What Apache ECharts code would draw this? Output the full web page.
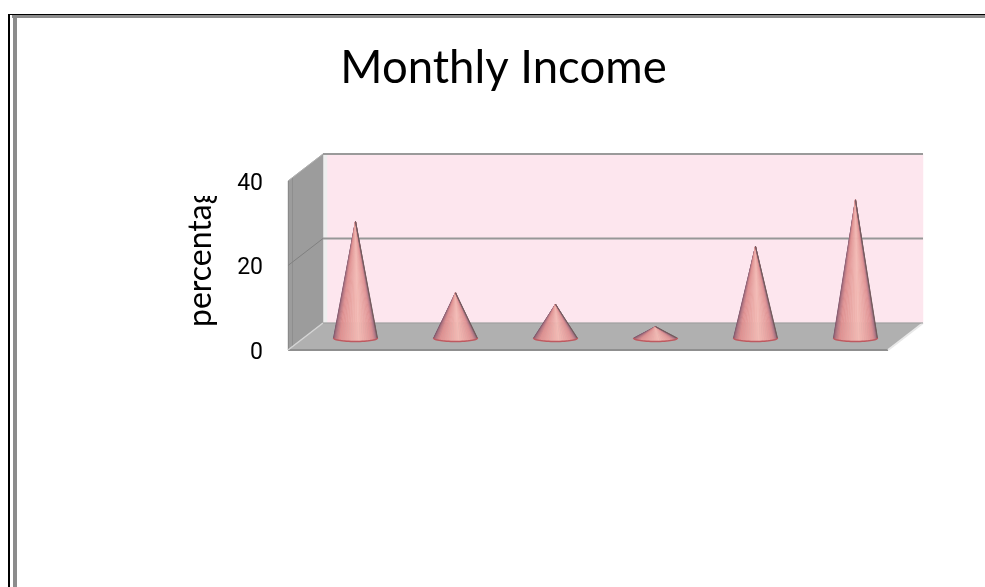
<!DOCTYPE html>
<html>
<head>
<meta charset="utf-8">
<title>Monthly Income</title>
<style>
  html, body { margin: 0; padding: 0; background: #fff; }
  #chart { width: 985px; height: 587px; }
</style>
<script src="https://cdn.jsdelivr.net/npm/echarts@6/dist/echarts.min.js"></script>
</head>
<body>
<div id="chart"></div>
<script>
// category names are not shown in the picture
const categories = ['1', '2', '3', '4', '5', '6']
const values = [27.6, 10.7, 8, 2.7, 21.7, 32.7]
const yTicks = [0, 20, 40]

const chart = echarts.init(document.getElementById('chart'), null, { renderer: 'canvas' })

// 3D look: offset of the back wall from the front plane, in pixels
const DEPTH_X = 35
const DEPTH_Y = -27
// cones stand a bit in front of the middle of the floor
const CONE_DX = 17.5
const CONE_DY = -12
const CONE_RX = 22
const CONE_RY = 3.5

function poly(points, fill, z2) {
  return {
    type: 'polygon',
    z2: z2 || 0,
    shape: { points },
    style: { fill, stroke: fill, lineWidth: 0.5 }
  }
}

function line(x1, y1, x2, y2, stroke, lineWidth, z2) {
  return {
    type: 'line',
    z2: z2 || 0,
    shape: { x1, y1, x2, y2 },
    style: { stroke, lineWidth }
  }
}

function renderWalls(params, api) {
  const cs = params.coordSys
  const left = cs.x
  const right = cs.x + cs.width
  const y0 = api.coord([0, yTicks[0]])[1]
  const yTop = api.coord([0, yTicks[yTicks.length - 1]])[1]
  const children = [
    // back wall
    poly([[left + DEPTH_X, yTop + DEPTH_Y], [right + DEPTH_X, yTop + DEPTH_Y],
      [right + DEPTH_X, y0 + DEPTH_Y], [left + DEPTH_X, y0 + DEPTH_Y]], '#fde6ee'),
    poly([[left + DEPTH_X, yTop + DEPTH_Y], [left + DEPTH_X + 4, yTop + DEPTH_Y],
      [left + DEPTH_X + 4, y0 + DEPTH_Y], [left + DEPTH_X, y0 + DEPTH_Y]], '#eeeeee', 1),
    // left wall
    poly([[left, yTop], [left + DEPTH_X, yTop + DEPTH_Y],
      [left + DEPTH_X, y0 + DEPTH_Y], [left, y0]], '#9c9c9c', 1),
    // floor
    poly([[left, y0], [right, y0], [right + DEPTH_X, y0 + DEPTH_Y],
      [left + DEPTH_X, y0 + DEPTH_Y]], '#b0b0b0', 2),
    // edges
    line(left + DEPTH_X, yTop + DEPTH_Y, right + DEPTH_X, yTop + DEPTH_Y, '#9a9a9a', 2, 3),
    line(left, yTop, left + DEPTH_X, yTop + DEPTH_Y, '#b0b0b0', 1, 3),
    line(left + 0.5, yTop, left + 0.5, y0, '#8a8a8a', 1, 3),
    line(left + 4.5, yTop - 3, left + 4.5, y0 - 3, '#8e8e8e', 1, 3),
    line(left, y0, right, y0, '#8f8f8f', 2, 3),
    line(right, y0, right + DEPTH_X, y0 + DEPTH_Y, '#e8e8e8', 2, 3),
    line(left, y0, left + DEPTH_X, y0 + DEPTH_Y, '#d4d4d4', 1.5, 3),
    line(left + DEPTH_X, y0 + DEPTH_Y, right + DEPTH_X, y0 + DEPTH_Y, '#9c9c9c', 1, 3)
  ]
  // gridlines, skip the floor and the top edge
  yTicks.slice(1, -1).forEach((t) => {
    const y = api.coord([0, t])[1]
    children.push(line(left + DEPTH_X, y + DEPTH_Y, right + DEPTH_X, y + DEPTH_Y, '#979797', 2, 3))
    children.push(line(left, y, left + DEPTH_X, y + DEPTH_Y, '#808080', 1, 3))
  })
  return { type: 'group', children }
}

// colour round the cone, t goes 0..1 from left silhouette to right silhouette
function coneColor(t) {
  const stops = [
    [0, [96, 66, 88]], [0.08, [150, 100, 118]], [0.25, [222, 144, 144]],
    [0.55, [242, 186, 180]], [0.8, [222, 144, 146]], [0.93, [150, 104, 124]], [1, [92, 80, 72]]
  ]
  for (let i = 1; i < stops.length; i++) {
    if (t <= stops[i][0]) {
      const a = stops[i - 1]
      const b = stops[i]
      const k = (t - a[0]) / (b[0] - a[0])
      const c = a[1].map((v, j) => Math.round(v + (b[1][j] - v) * k))
      return 'rgb(' + c.join(',') + ')'
    }
  }
  return '#5c5048'
}

function renderCone(params, api) {
  const cat = api.value(0)
  const base = api.coord([cat, 0])
  const top = api.coord([cat, api.value(1)])
  const cx = base[0] + CONE_DX
  const cy = base[1] + CONE_DY
  const apex = [top[0] + CONE_DX, top[1] + CONE_DY]
  const children = []
  const n = 30
  const rim = []
  for (let i = 0; i <= n; i++) {
    const a = Math.PI - (Math.PI * i) / n
    rim.push([cx + CONE_RX * Math.cos(a), cy + CONE_RY * Math.sin(a)])
  }
  for (let i = 0; i < n; i++) {
    const t = (i + 0.5) / n
    children.push(poly([apex, rim[i], rim[i + 1]], coneColor(t), 10))
  }
  children.push({
    type: 'polyline',
    z2: 11,
    shape: { points: rim },
    style: { stroke: '#bd5a60', lineWidth: 1.5, fill: null }
  })
  return { type: 'group', children }
}

chart.setOption({
  animation: false,
  backgroundColor: '#ffffff',
  title: {
    text: 'Monthly Income',
    left: 498.5,
    top: 40,
    textAlign: 'center',
    textStyle: { fontFamily: 'Lato', fontSize: 45.5, fontWeight: 'normal', color: '#000' }
  },
  grid: { left: 288, right: 97, top: 181, bottom: 237 },
  xAxis: {
    type: 'category',
    data: categories,
    axisLine: { show: false },
    axisTick: { show: false },
    axisLabel: { show: false }
  },
  yAxis: {
    type: 'value',
    min: 0,
    max: 40,
    interval: 20,
    axisLine: { show: false },
    axisTick: { show: false },
    splitLine: { show: false },
    axisLabel: {
      margin: 25,
      formatter: '{t|{value}}',
      rich: {
        t: { fontFamily: 'Roboto', fontSize: 23, color: '#000', padding: [6, 0, 0, 0] }
      }
    }
  },
  series: [
    {
      type: 'custom',
      name: 'walls',
      clip: false,
      z: 1,
      silent: true,
      renderItem: renderWalls,
      data: [[0]]
    },
    {
      type: 'custom',
      name: 'Monthly Income',
      clip: false,
      z: 2,
      renderItem: renderCone,
      encode: { x: 0, y: 1 },
      data: values.map((v, i) => [i, v])
    }
  ],
  graphic: [
    // page border
    { type: 'rect', z: 10, shape: { x: 8, y: 14, width: 977, height: 1 }, style: { fill: '#000' } },
    { type: 'rect', z: 10, shape: { x: 8, y: 14, width: 2, height: 573 }, style: { fill: '#000' } },
    { type: 'rect', z: 10, shape: { x: 12, y: 15, width: 973, height: 3 }, style: { fill: '#8c8c8c' } },
    { type: 'rect', z: 10, shape: { x: 13, y: 15, width: 4, height: 572 }, style: { fill: '#8c8c8c' } },
    // axis title, cut off at the top like in the original
    {
      type: 'text',
      z: 10,
      x: 185,
      y: 327,
      rotation: Math.PI / 2,
      style: { text: 'percentage', fontFamily: 'Lato', fontSize: 32, fill: '#000', textAlign: 'left', textBaseline: 'top' }
    },
    { type: 'rect', z: 11, shape: { x: 180, y: 150, width: 45, height: 46 }, style: { fill: '#fff' } }
  ]
})
</script>
</body>
</html>
